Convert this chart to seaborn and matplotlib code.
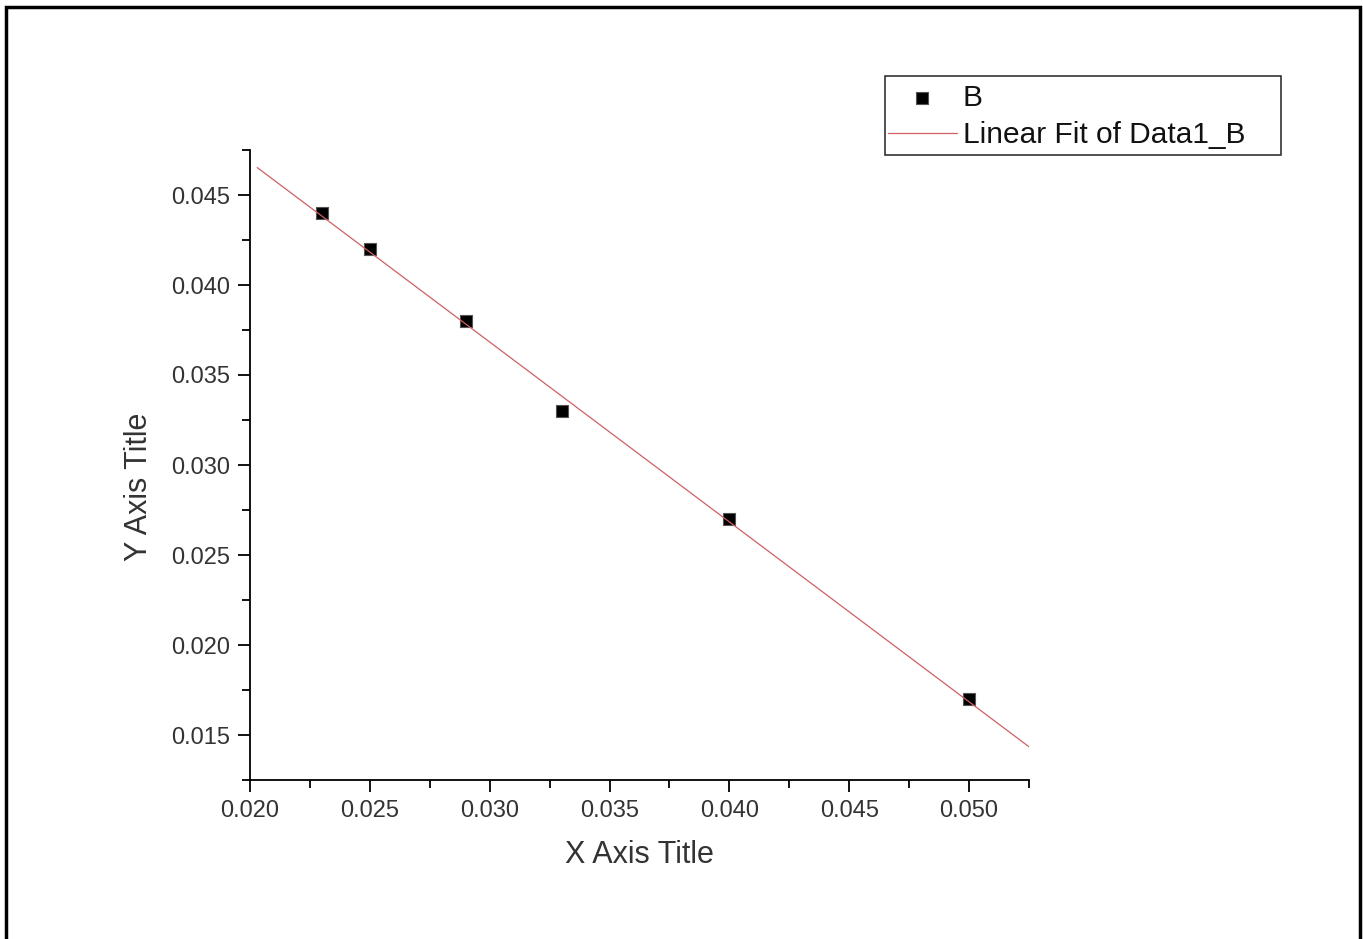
import numpy as np
import pandas as pd
import seaborn as sns
import matplotlib.pyplot as plt
from matplotlib.ticker import MultipleLocator, FormatStrFormatter
from matplotlib.patches import Rectangle

# data
x_vals = [0.023, 0.025, 0.029, 0.033, 0.040, 0.050]
y_vals = [0.044, 0.042, 0.038, 0.033, 0.027, 0.017]
series_name = "B"
fit_name = "Linear Fit of Data1_B"
x_range = (0.020, 0.0525)
y_range = (0.0125, 0.0475)

sns.set_theme(style="ticks")
plt.rcParams['font.family'] = ['Liberation Sans', 'DejaVu Sans']

df = pd.DataFrame({'x': x_vals, 'y': y_vals})

# straight line fit through the points
slope, intercept = np.polyfit(df['x'], df['y'], 1)
fit_x = np.array([0.0203, x_range[1]])
fit_df = pd.DataFrame({'x': fit_x, 'y': slope * fit_x + intercept})

W, H = 1363, 939
fig = plt.figure(figsize=(W / 100, H / 100), dpi=100)
ax = fig.add_axes([250 / W, 1 - 780 / H, (1029 - 250) / W, (780 - 150) / H])

sns.scatterplot(data=df, x='x', y='y', marker='s', s=80, color='black',
                edgecolor='#555555', linewidth=0.8, label=series_name, ax=ax, zorder=3)
sns.lineplot(data=fit_df, x='x', y='y', color='#d06060', linewidth=0.9,
             label=fit_name, ax=ax, zorder=4)

ax.set_xlim(*x_range)
ax.set_ylim(*y_range)
ax.xaxis.set_major_locator(MultipleLocator(0.005))
ax.xaxis.set_minor_locator(MultipleLocator(0.0025))
ax.yaxis.set_major_locator(MultipleLocator(0.005))
ax.yaxis.set_minor_locator(MultipleLocator(0.0025))
ax.xaxis.set_major_formatter(FormatStrFormatter('%.3f'))
ax.yaxis.set_major_formatter(FormatStrFormatter('%.3f'))

for s in ['top', 'right']:
    ax.spines[s].set_visible(False)
for s in ['left', 'bottom']:
    ax.spines[s].set_linewidth(1.3)
    ax.spines[s].set_color('black')

ax.tick_params(which='major', direction='out', length=8.5, width=1.3,
               labelsize=17, labelcolor='#333333', color='black', pad=6)
ax.tick_params(which='minor', direction='out', length=5.5, width=1.3, color='black')

ax.set_xlabel("X Axis Title", fontsize=22, color='#333333', labelpad=13)
ax.set_ylabel("Y Axis Title", fontsize=22, color='#333333')
ax.yaxis.set_label_coords(-0.1226, 0.465)

leg = ax.legend(loc='upper left', bbox_to_anchor=(888 / W, 1 - 84 / H),
                bbox_transform=fig.transFigure, borderaxespad=0, fontsize=21.5,
                frameon=False, handlelength=2.3, handletextpad=0.2,
                labelspacing=0.3, borderpad=0)
for t in leg.get_texts():
    t.set_color('#111111')

# legend box, drawn on its own so it can be wider than the text
fig.patches.append(Rectangle((885 / W, 1 - 155 / H), (1281 - 885) / W, (155 - 76) / H,
                             transform=fig.transFigure, fill=False,
                             edgecolor='#222222', linewidth=1.1))

# outer frame round the page
fig.patches.append(Rectangle((6 / W, -0.05), (1360 - 6) / W, 1.05 - 7 / H,
                             transform=fig.transFigure, fill=False,
                             edgecolor='black', linewidth=2.5))

plt.savefig('out.png', dpi=100)
plt.close()
